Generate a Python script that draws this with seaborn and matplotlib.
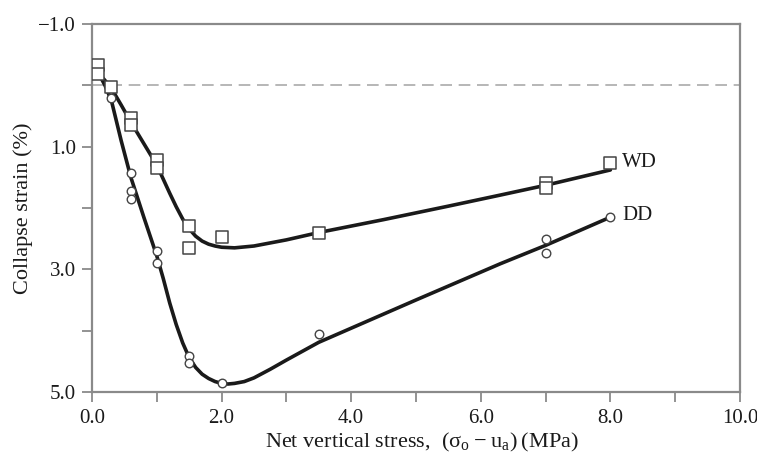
import matplotlib
matplotlib.use("Agg")
import matplotlib.pyplot as plt
import seaborn as sns

# measured points
wd_x = [0.1, 0.1, 0.3, 0.6, 0.6, 1.0, 1.0, 1.5, 1.5, 2.0, 3.5, 7.0, 7.0, 8.0]
wd_y = [-0.33, -0.18, 0.02, 0.54, 0.64, 1.22, 1.35, 2.30, 2.66, 2.48, 2.40, 1.60, 1.68, 1.26]
dd_x = [0.3, 0.6, 0.6, 0.6, 1.0, 1.0, 1.5, 1.5, 2.0, 3.5, 7.0, 7.0, 8.0]
dd_y = [0.21, 1.43, 1.73, 1.85, 2.70, 2.90, 4.42, 4.53, 4.86, 4.05, 2.50, 2.74, 2.15]

# fitted curves
wd_curve_x = [0.1, 0.2, 0.3, 0.45, 0.6, 0.8, 1.0, 1.1, 1.2, 1.3, 1.4, 1.5, 1.6, 1.7, 1.8, 1.9, 2.0,
              2.2, 2.5, 3.0, 3.5, 4.5, 5.5, 6.3, 7.0, 8.0]
wd_curve_y = [-0.2, -0.08, 0.05, 0.32, 0.6, 0.95, 1.30, 1.53, 1.76, 1.98, 2.18, 2.34, 2.46, 2.54,
              2.59, 2.62, 2.64, 2.65, 2.62, 2.52, 2.40, 2.19, 1.97, 1.79, 1.63, 1.38]
dd_curve_x = [0.1, 0.2, 0.3, 0.45, 0.6, 0.8, 1.0, 1.1, 1.2, 1.3, 1.4, 1.5, 1.6, 1.7, 1.8, 1.9, 2.0,
              2.1, 2.2, 2.35, 2.5, 2.75, 3.0, 3.5, 4.0, 5.0, 6.3, 7.0, 8.0]
dd_curve_y = [-0.2, 0.0, 0.25, 0.9, 1.5, 2.15, 2.78, 3.15, 3.55, 3.9, 4.2, 4.44, 4.6, 4.71, 4.78,
              4.83, 4.86, 4.87, 4.86, 4.83, 4.77, 4.63, 4.48, 4.19, 3.96, 3.50, 2.91, 2.61, 2.15]

x_ticks = [0, 1, 2, 3, 4, 5, 6, 7, 8, 9, 10]
x_tick_labels = ["0.0", "", "2.0", "", "4.0", "", "6.0", "", "8.0", "", "10.0"]
y_ticks = [-1, 0, 1, 2, 3, 4, 5]
y_tick_labels = ["\u22121.0", "", "1.0", "", "3.0", "", "5.0"]

sns.set_style("white")
plt.rcParams["font.family"] = ["Liberation Serif", "DejaVu Serif"]
plt.rcParams["mathtext.fontset"] = "custom"
plt.rcParams["mathtext.rm"] = "Liberation Serif"
plt.rcParams["mathtext.it"] = "Liberation Serif:italic"

fig = plt.figure(figsize=(7.57, 4.54), dpi=100)
ax = fig.add_axes([0.1215, 0.1366, 0.856, 0.8106])

ink = "#1a1a1a"
gray = "#8a8a8a"

ax.axhline(0, color="#aaaaaa", lw=1.2, ls=(0, (7, 4)), zorder=1)

sns.lineplot(x=wd_curve_x, y=wd_curve_y, ax=ax, color=ink, lw=2.6,
             estimator=None, sort=False, zorder=3)
sns.lineplot(x=dd_curve_x, y=dd_curve_y, ax=ax, color=ink, lw=2.6,
             estimator=None, sort=False, zorder=3)

sns.scatterplot(x=wd_x, y=wd_y, ax=ax, marker="s", s=75, facecolor="white",
                edgecolor="#444444", linewidth=1.1, zorder=4)
sns.scatterplot(x=dd_x, y=dd_y, ax=ax, marker="o", s=38, facecolor="white",
                edgecolor="#444444", linewidth=1.0, zorder=4)

ax.text(8.18, 1.26, "WD", fontsize=15, va="center", ha="left", color=ink)
ax.text(8.18, 2.13, "DD", fontsize=15, va="center", ha="left", color=ink)

ax.set_xlim(0, 10)
ax.set_ylim(5, -1)
ax.set_xticks(x_ticks)
ax.set_xticklabels(x_tick_labels)
ax.set_yticks(y_ticks)
ax.set_yticklabels(y_tick_labels)
ax.tick_params(axis="both", direction="out", length=7.5, width=1.3, color=gray,
               labelsize=15, labelcolor=ink, bottom=True, left=True)
ax.tick_params(axis="x", pad=5)
ax.tick_params(axis="y", pad=4)

for sp in ax.spines.values():
    sp.set_visible(True)
    sp.set_color(gray)
    sp.set_linewidth(1.6)

ax.set_xlabel("Net vertical stress,  (σ$_\\mathrm{o}$\u2009\u2212\u2009u$_\\mathrm{a}$)\u2009(MPa)",
              fontsize=16, color=ink, va="center")
ax.xaxis.set_label_coords(0.509, -0.137)
ax.set_ylabel("Collapse strain (%)", fontsize=16, color=ink, va="center")
ax.yaxis.set_label_coords(-0.106, 0.5)

fig.savefig("out.png", dpi=100, facecolor="white")
